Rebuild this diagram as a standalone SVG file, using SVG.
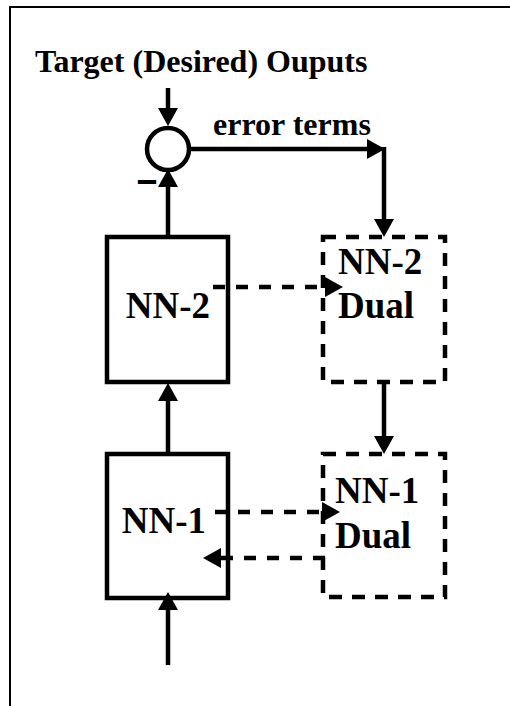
<svg xmlns="http://www.w3.org/2000/svg" width="510" height="706" viewBox="0 0 510 706">
<style>
text{font-family:"Liberation Serif","Times New Roman",serif;font-weight:bold;fill:#000}
.lbl{font-size:32px}
.big{font-size:37px}
.box{fill:#fff;stroke:#000;stroke-width:4.5}
.dbox{fill:#fff;stroke:#000;stroke-width:4.5;stroke-dasharray:13 10}
.c{fill:none;stroke:#000;stroke-width:4.5;marker-end:url(#ah)}
.d{stroke-dasharray:12 11}
</style>
<defs>
<marker id="ah" markerUnits="userSpaceOnUse" markerWidth="20" markerHeight="22" refX="10" refY="10" orient="auto" overflow="visible">
<path d="M0,0 L18,10 L0,20 z" fill="#000"/>
</marker>
</defs>
<rect width="510" height="706" fill="#fff"/>
<path d="M10,706 V7 H510" fill="none" stroke="#000" stroke-width="2"/>
<text class="lbl" x="35" y="72">Target (Desired) Ouputs</text>
<g id="sum">
<circle cx="168" cy="149" r="21" fill="#fff" stroke="#000" stroke-width="4.5"/>
</g>
<g id="nn2">
<rect class="box" x="107" y="237" width="121" height="145"/>
<text class="big" x="168" y="318" text-anchor="middle">NN-2</text>
</g>
<g id="nn2dual">
<rect class="dbox" x="323" y="237" width="122" height="145"/>
<text class="big" x="338" y="274">NN-2</text>
<text class="big" x="338" y="318">Dual</text>
</g>
<g id="nn1">
<rect class="box" x="107" y="454" width="121" height="144"/>
<text class="big" x="164" y="533" text-anchor="middle">NN-1</text>
</g>
<g id="nn1dual">
<rect class="dbox" x="323" y="454" width="122" height="143"/>
<text class="big" x="335" y="503">NN-1</text>
<text class="big" x="335" y="548">Dual</text>
</g>
<g id="connectors">
<path class="c" d="M168,88 V118"/>
<path class="c" d="M190,149 H377"/>
<text class="lbl" x="213" y="135">error terms</text>
<path class="c" d="M384,147 V229"/>
<path class="c" d="M168,237 V177"/>
<text class="lbl" x="139" y="189" stroke="#000" stroke-width="1.8">–</text>
<path class="c" d="M168,454 V391"/>
<path class="c" d="M168,665 V600"/>
<path class="c" d="M384,382 V446"/>
<path class="c d" d="M213,287 H335"/>
<path class="c d" d="M215,512 H332"/>
<path class="c d" d="M325,558 H211"/>
</g>
</svg>
